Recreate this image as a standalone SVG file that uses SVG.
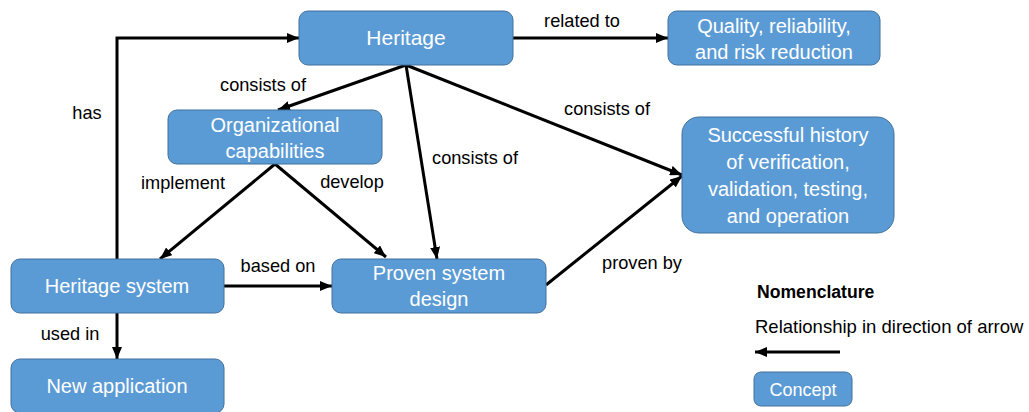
<svg xmlns="http://www.w3.org/2000/svg" width="1029" height="412" viewBox="0 0 1029 412">
  <style>
    .node rect { fill: #5B9BD5; stroke: #41719C; stroke-width: 1; }
    .node text { fill: #FFFFFF; font-family: "Liberation Sans", Arial, sans-serif; font-size: 20px; text-anchor: middle; }
    .edge { fill: none; stroke: #000000; stroke-width: 3; marker-end: url(#arrow); }
    .label { fill: #000000; font-family: "Liberation Sans", Arial, sans-serif; font-size: 18.2px; text-anchor: middle; }
  </style>
  <defs>
    <marker id="arrow" viewBox="0 0 12 10" refX="12" refY="5" markerWidth="12" markerHeight="10" markerUnits="userSpaceOnUse" orient="auto">
      <path d="M0,0 L12,5 L0,10 Z" fill="#000000"/>
    </marker>
  </defs>

  <rect width="1029" height="412" fill="#FFFFFF"/>

  <!-- connectors -->
  <g id="connectors">
    <path class="edge" d="M117,259 L117,38 L299,38"/>
    <path class="edge" d="M513,38 L668,38"/>
    <path class="edge" d="M406,65 L278,110"/>
    <path class="edge" d="M406,65 L437,259"/>
    <path class="edge" d="M406,65 L682,175"/>
    <path class="edge" d="M275,164 L160,259"/>
    <path class="edge" d="M275,164 L386,257"/>
    <path class="edge" d="M224,286 L332,286"/>
    <path class="edge" d="M117,313 L117,359"/>
    <path class="edge" d="M546,285 L682,176"/>

    <text class="label" x="87" y="119">has</text>
    <text class="label" x="582" y="27">related to</text>
    <text class="label" x="263" y="91">consists of</text>
    <text class="label" x="475" y="164">consists of</text>
    <text class="label" x="607" y="115">consists of</text>
    <text class="label" x="183" y="189">implement</text>
    <text class="label" x="352" y="188">develop</text>
    <text class="label" x="278" y="272">based on</text>
    <text class="label" x="70" y="340">used in</text>
    <text class="label" x="642" y="269">proven by</text>
  </g>

  <!-- concept nodes -->
  <g id="heritage" class="node">
    <rect x="299" y="11" width="214" height="54" rx="9"/>
    <text x="406" y="45" style="font-size:21px">Heritage</text>
  </g>
  <g id="quality" class="node">
    <rect x="668" y="11" width="212" height="54" rx="9"/>
    <text x="774" y="33">Quality, reliability,</text>
    <text x="774" y="59">and risk reduction</text>
  </g>
  <g id="org-capabilities" class="node">
    <rect x="168" y="110" width="214" height="54" rx="9"/>
    <text x="275" y="132">Organizational</text>
    <text x="275" y="158">capabilities</text>
  </g>
  <g id="successful-history" class="node">
    <rect x="682" y="117" width="212" height="116" rx="17"/>
    <text x="788" y="142">Successful history</text>
    <text x="788" y="169">of verification,</text>
    <text x="788" y="196">validation, testing,</text>
    <text x="788" y="223">and operation</text>
  </g>
  <g id="heritage-system" class="node">
    <rect x="11" y="259" width="213" height="54" rx="9"/>
    <text x="117" y="293">Heritage system</text>
  </g>
  <g id="proven-design" class="node">
    <rect x="332" y="259" width="214" height="54" rx="9"/>
    <text x="439" y="280">Proven system</text>
    <text x="439" y="306">design</text>
  </g>
  <g id="new-application" class="node">
    <rect x="11" y="359" width="213" height="54" rx="9"/>
    <text x="117" y="393">New application</text>
  </g>

  <!-- nomenclature legend -->
  <g id="legend">
    <text x="757" y="298" font-family="Liberation Sans, Arial, sans-serif" font-size="17.6px" font-weight="bold" fill="#000000">Nomenclature</text>
    <text x="755" y="333" font-family="Liberation Sans, Arial, sans-serif" font-size="18.5px" fill="#000000">Relationship in direction of arrow</text>
    <path class="edge" d="M840,352 L755,352"/>
    <g id="legend-concept" class="node">
      <rect x="754" y="372" width="98" height="34" rx="7"/>
      <text x="803" y="396" style="font-size:18px">Concept</text>
    </g>
  </g>
</svg>
